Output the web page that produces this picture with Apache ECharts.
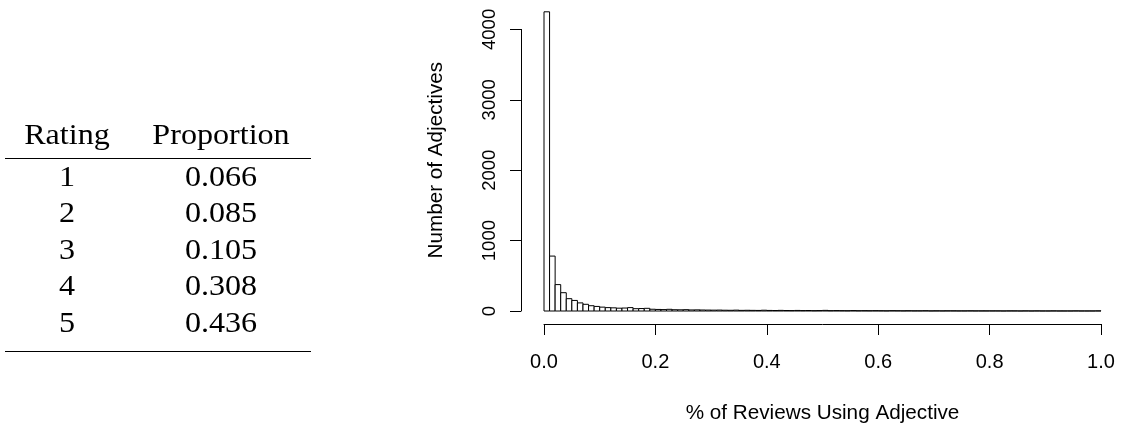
<!DOCTYPE html>
<html>
<head>
<meta charset="utf-8">
<script src="https://cdn.jsdelivr.net/npm/echarts@6/dist/echarts.min.js"></script>
<style>
html,body{margin:0;padding:0;background:#fff;}
#chart{width:1124px;height:429px;}
</style>
</head>
<body>
<div id="chart"></div>
<script>
// ---- Table data ----
var tableHeaders = ['Rating', 'Proportion'];
var ratings = ['1', '2', '3', '4', '5'];
var proportions = ['0.066', '0.085', '0.105', '0.308', '0.436'];

// ---- Histogram data ----
var binWidth = 0.01;
var counts = [
  4250, 780, 375, 260, 175, 150, 115, 95, 75, 65,
  55, 48, 45, 40, 42, 48, 33, 35, 38, 25,
  22, 20, 24, 18, 17, 19, 15, 16, 14, 13,
  12, 13, 11, 10, 12, 9, 10, 9, 8, 11,
  8, 7, 9, 7, 6, 8, 6, 7, 5, 6,
  9, 5, 6, 5, 4, 6, 4, 5, 4, 5,
  4, 3, 5, 4, 3, 4, 3, 3, 4, 2,
  3, 2, 3, 3, 2, 2, 3, 2, 2, 2,
  2, 2, 1, 2, 2, 1, 2, 1, 2, 1,
  1, 2, 1, 1, 1, 2, 1, 1, 1, 2
];
var xTicks = [0, 0.2, 0.4, 0.6, 0.8, 1.0];
var yTicks = [0, 1000, 2000, 3000, 4000];
var xTitle = '% of Reviews Using Adjective';
var yTitle = 'Number of Adjectives';

var histData = counts.map(function (c, i) {
  return [i * binWidth, (i + 1) * binWidth, c];
});

// ---- Table graphics ----
var serif = '"Liberation Serif", "DejaVu Serif", serif';
var sans = '"Liberation Sans", Arial, Helvetica, sans-serif';
var colX = [67, 221];
var headerY = 136.5;
var rowY0 = 177.8;
var rowStep = 36.6;
var graphics = [];
function tableText(t, x, y) {
  return {
    type: 'text', x: x, y: y, scaleX: 1.07,
    style: { text: t, font: '30px ' + serif, fill: '#000', align: 'center', verticalAlign: 'middle' }
  };
}
tableHeaders.forEach(function (h, j) {
  graphics.push(tableText(h, colX[j], headerY));
});
ratings.forEach(function (r, i) {
  [r, proportions[i]].forEach(function (t, j) {
    graphics.push(tableText(t, colX[j], rowY0 + i * rowStep));
  });
});
graphics.push({ type: 'line', shape: { x1: 5, y1: 158.5, x2: 311, y2: 158.5 }, style: { stroke: '#000', lineWidth: 1.2 } });
graphics.push({ type: 'line', shape: { x1: 5, y1: 351.5, x2: 311, y2: 351.5 }, style: { stroke: '#000', lineWidth: 1.2 } });

var chart = echarts.init(document.getElementById('chart'), null, { renderer: 'canvas' });
chart.setOption({
  backgroundColor: '#fff',
  animation: false,
  graphic: graphics,
  grid: {
    left: 544, right: 23, top: 29.4, bottom: 118,
    containLabel: false, outerBoundsMode: 'none'
  },
  xAxis: {
    type: 'value', min: xTicks[0], max: xTicks[xTicks.length - 1], interval: 0.2,
    offset: 13,
    axisLine: { show: true, onZero: false, lineStyle: { color: '#000', width: 1 } },
    axisTick: { show: true, length: 11, lineStyle: { color: '#000', width: 1 } },
    splitLine: { show: false },
    axisLabel: {
      margin: 28.5, color: '#000', fontFamily: sans, fontSize: 20,
      formatter: function (v) { return v.toFixed(1); }
    },
    name: xTitle, nameLocation: 'middle', nameGap: 79,
    nameTextStyle: { color: '#000', fontFamily: sans, fontSize: 20.7 }
  },
  yAxis: {
    type: 'value', min: yTicks[0], max: yTicks[yTicks.length - 1], interval: 1000,
    offset: 23,
    axisLine: { show: true, onZero: false, lineStyle: { color: '#000', width: 1 } },
    axisTick: { show: true, length: 11, lineStyle: { color: '#000', width: 1 } },
    splitLine: { show: false },
    axisLabel: {
      margin: 22, rotate: 90, color: '#000', fontFamily: sans, fontSize: 18.5,
      formatter: function (v) { return String(v); }
    },
    name: yTitle, nameLocation: 'middle', nameGap: 74,
    nameTextStyle: { color: '#000', fontFamily: sans, fontSize: 20.7, padding: [0, 0, 0, 20] }
  },
  series: [{
    type: 'custom',
    clip: false,
    data: histData,
    renderItem: function (params, api) {
      var p0 = api.coord([api.value(0), api.value(2)]);
      var p1 = api.coord([api.value(1), 0]);
      return {
        type: 'rect',
        shape: { x: p0[0], y: p0[1], width: p1[0] - p0[0], height: p1[1] - p0[1] },
        style: { fill: '#fff', stroke: '#000', lineWidth: 1 }
      };
    }
  }]
});
</script>
</body>
</html>
